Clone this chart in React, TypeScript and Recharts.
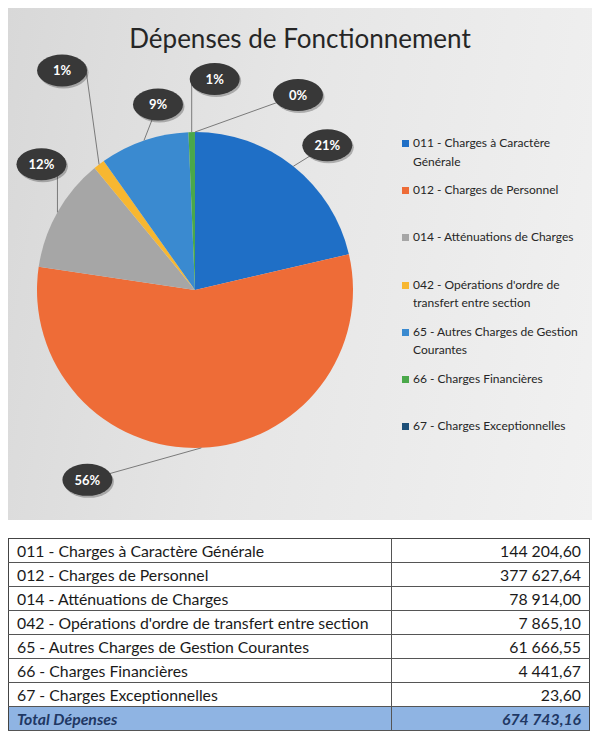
import { PieChart, Pie, Cell, Legend } from 'recharts'

const CATEGORIES = [
  '011 - Charges à Caractère Générale',
  '012 - Charges de Personnel',
  '014 - Atténuations de Charges',
  "042 - Opérations d'ordre de transfert entre section",
  '65 - Autres Charges de Gestion Courantes',
  '66 - Charges Financières',
  '67 - Charges Exceptionnelles',
]
const LEGEND_LABELS = [
  '011 - Charges à Caractère\nGénérale',
  '012 - Charges de Personnel',
  '014 - Atténuations de Charges',
  "042 - Opérations d'ordre de\ntransfert entre section",
  '65 - Autres Charges de Gestion\nCourantes',
  '66 - Charges Financières',
  '67 - Charges Exceptionnelles',
]
const VALUES = [144204.6, 377627.64, 78914.0, 7865.1, 61666.55, 4441.67, 23.6]
const TOTAL_LABEL = 'Total Dépenses'
const TOTAL_VALUE = 674743.16
const TITLE = 'Dépenses de Fonctionnement'

const COLORS = ['#1f6fc6', '#ee6c37', '#a6a6a6', '#f7b731', '#3a8ad0', '#4aa84a', '#1d4f78']

// where each bubble sits relative to the slice's outer edge point (+ optional elbow)
const LABEL_NUDGE: { dx: number; dy: number; elbow?: [number, number] }[] = [
  { dx: 34, dy: -21 },
  { dx: -114, dy: 32 },
  { dx: -16, dy: -48, elbow: [0, -48] },
  { dx: -37, dy: -94, elbow: [-13, -94] },
  { dx: 14, dy: -36 },
  { dx: 23, dy: -53, elbow: [0, -53] },
  { dx: 103, dy: -37 },
]

const FONT = 'Lato, "Open Sans", sans-serif'
const RAD = Math.PI / 180

const data = CATEGORIES.map((name, i) => ({ name, legend: LEGEND_LABELS[i], value: VALUES[i] }))

function fmt(v: number) {
  const [int, dec] = v.toFixed(2).split('.')
  return int.replace(/\B(?=(\d{3})+(?!\d))/g, ' ') + ',' + dec
}

function renderLabel(props: any) {
  const { cx, cy, midAngle, outerRadius, percent, index } = props
  const ex = cx + outerRadius * Math.cos(-midAngle * RAD)
  const ey = cy + outerRadius * Math.sin(-midAngle * RAD)
  const n = LABEL_NUDGE[index]
  const bx = ex + n.dx
  const by = ey + n.dy
  const pts = [[ex, ey]]
  if (n.elbow) pts.push([ex + n.elbow[0], ey + n.elbow[1]])
  pts.push([bx, by])
  return (
    <g key={index}>
      <polyline points={pts.map((p) => p.join(',')).join(' ')} fill="none" stroke="#7a7a7a" strokeWidth={1} />
      <ellipse cx={bx + 1.5} cy={by + 2} rx={25} ry={16} fill="#000" opacity={0.25} />
      <ellipse cx={bx} cy={by} rx={25} ry={16} fill="#383838" />
      <text x={bx} y={by} fill="#fff" fontSize={13} fontWeight={700} fontFamily={FONT} textAnchor="middle" dominantBaseline="central">
        {Math.round(percent * 100)}%
      </text>
    </g>
  )
}

function renderLegend(props: any) {
  const { payload } = props
  return (
    <div style={{ fontFamily: FONT, fontSize: 12, color: '#262626' }}>
      {payload.map((entry: any, i: number) => (
        <div key={i} style={{ display: 'flex', alignItems: 'flex-start', height: 47.2 }}>
          <span style={{ width: 7, height: 7, background: entry.color, marginTop: 6, marginRight: 4, flex: 'none' }} />
          <span style={{ whiteSpace: 'pre-line', lineHeight: '18.5px' }}>{entry.payload.legend}</span>
        </div>
      ))}
    </div>
  )
}

const cell = { borderBottom: '1px solid #555', height: 23, padding: '0 8px', fontSize: 15.8, color: '#1a1a1a' }

export default function App() {
  return (
    <div style={{ width: 584, fontFamily: FONT }}>
      <div style={{ position: 'relative', width: 584, height: 512, background: 'linear-gradient(100deg, #d8d8d8 0%, #e6e6e6 45%, #f1f1f1 100%)' }}>
        <div style={{ position: 'absolute', top: 14, width: 584, textAlign: 'center', fontSize: 26, color: '#262626' }}>{TITLE}</div>
        <PieChart width={584} height={512} margin={{ top: 0, right: 0, bottom: 0, left: 0 }}>
          <Pie
            data={data}
            dataKey="value"
            nameKey="name"
            cx={187}
            cy={282}
            outerRadius={158}
            startAngle={90}
            endAngle={-270}
            stroke="none"
            label={renderLabel}
            labelLine={false}
            isAnimationActive={false}
          >
            {data.map((d, i) => (
              <Cell key={d.name} fill={COLORS[i]} />
            ))}
          </Pie>
          <Legend content={renderLegend} layout="vertical" wrapperStyle={{ left: 394, top: 126, width: 200, bottom: 'auto' }} />
        </PieChart>
      </div>
      <table style={{ marginTop: 18, width: 582, borderCollapse: 'collapse', border: '1.5px solid #444' }}>
        <tbody>
          {CATEGORIES.map((c, i) => (
            <tr key={c}>
              <td style={{ ...cell, width: 366, borderRight: '1px solid #555' }}>{c}</td>
              <td style={{ ...cell, textAlign: 'right' }}>{fmt(VALUES[i])}</td>
            </tr>
          ))}
          <tr style={{ background: '#8fb4e3' }}>
            <td style={{ ...cell, borderRight: '1px solid #555', fontStyle: 'italic', fontWeight: 700, color: '#1f3864' }}>{TOTAL_LABEL}</td>
            <td style={{ ...cell, textAlign: 'right', fontStyle: 'italic', fontWeight: 700, color: '#1f3864' }}>{fmt(TOTAL_VALUE)}</td>
          </tr>
        </tbody>
      </table>
    </div>
  )
}
